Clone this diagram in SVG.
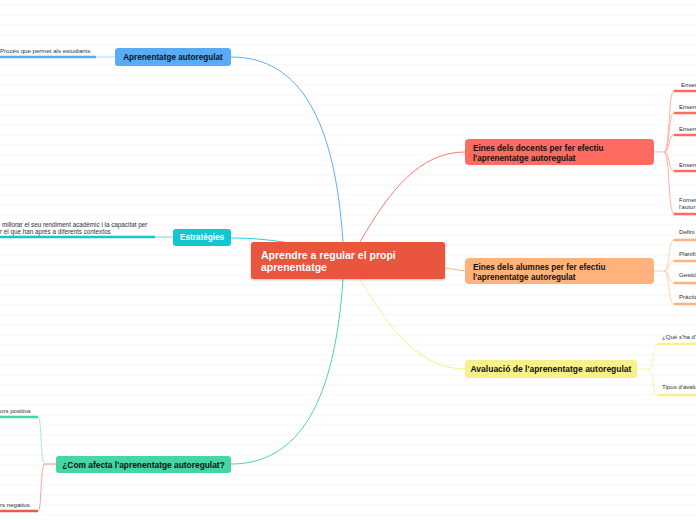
<svg xmlns="http://www.w3.org/2000/svg" width="696" height="520" viewBox="0 0 696 520">
<defs>
<pattern id="rules" x="0" y="0" width="696" height="10" patternUnits="userSpaceOnUse">
<rect x="0" y="4.5" width="696" height="1" fill="#f5f5f5"/>
</pattern>
<filter id="sh" x="-10%" y="-20%" width="120%" height="160%">
<feDropShadow dx="0" dy="1" stdDeviation="1" flood-color="#000" flood-opacity="0.25"/>
</filter>
</defs>
<style>
.lbl{font-family:"Liberation Sans",Arial,sans-serif;font-weight:bold;font-size:8.2px;fill:#111}
.sm{font-family:"Liberation Sans",Arial,sans-serif;font-size:6.1px;fill:#333}
.thin{fill:none;stroke-width:1}
.thick{fill:none;stroke-width:2.5}
</style>
<rect width="696" height="520" fill="#fff"/>
<rect width="696" height="520" fill="url(#rules)"/>

<g id="connectors">
<path class="thin" stroke="#62b0f5" d="M343,242 C335,120 300,57 231,57"/>
<path class="thin" stroke="#2ccfd9" d="M231,238 C255,238 270,240 290,243"/>
<path class="thin" stroke="#4cd8a6" d="M343,279 C335,400 300,464 231,464"/>
<path class="thin" stroke="#ff7a70" d="M360,242 C390,190 420,152 465,152"/>
<path class="thin" stroke="#ffb37c" d="M445,268 L465,271"/>
<path class="thin" stroke="#f8f08a" d="M360,279 C390,330 420,369 465,369"/>

<path class="thin" stroke="#a8d4fa" d="M96,57 L115,57"/>
<path class="thick" stroke="#5aabf5" d="M0,57 L96,57"/>
<path class="thin" stroke="#6fd9e1" d="M155,237 L173,237"/>
<path class="thick" stroke="#14c6d2" d="M0,237 L155,237"/>

<path class="thin" stroke="#c9a07e" d="M56,464 L45,464"/>
<path class="thin" stroke="#a8ecd3" d="M45,464 C40,464 42,417 38,417"/>
<path class="thin" stroke="#f5a99f" d="M45,464 C40,464 42,511 38,511"/>
<path class="thick" stroke="#45d6a3" d="M0,417 L38,417"/>
<path class="thick" stroke="#ee5a4a" d="M0,511 L38,511"/>

<g stroke="#ffb0aa" class="thin">
<path d="M654,152 L664,152"/>
<path d="M664,152 C670,152 668,91 674,91"/>
<path d="M664,152 C670,152 668,113 674,113"/>
<path d="M664,152 C670,152 668,135 674,135"/>
<path d="M664,152 C670,152 668,171 674,171"/>
<path d="M664,152 C670,152 668,214 674,214"/>
</g>
<g stroke="#ff6b61" class="thick">
<path d="M674,91 L696,91"/>
<path d="M674,113 L696,113"/>
<path d="M674,135 L696,135"/>
<path d="M674,171 L696,171"/>
<path d="M674,214 L696,214"/>
</g>

<g stroke="#ffd2b0" class="thin">
<path d="M654,271 L664,271"/>
<path d="M664,271 C670,271 668,240 674,240"/>
<path d="M664,271 C670,271 668,261 674,261"/>
<path d="M664,271 C670,271 668,283 674,283"/>
<path d="M664,271 C670,271 668,304 674,304"/>
</g>
<g stroke="#ffb37c" class="thick">
<path d="M674,240 L696,240"/>
<path d="M674,261 L696,261"/>
<path d="M674,283 L696,283"/>
<path d="M674,304 L696,304"/>
</g>

<g stroke="#f9f3a8" class="thin">
<path d="M637,369 L648,369"/>
<path d="M648,369 C654,369 652,344 658,344"/>
<path d="M648,369 C654,369 652,395 658,395"/>
</g>
<g stroke="#f8f08a" class="thick">
<path d="M658,344 L696,344"/>
<path d="M658,395 L696,395"/>
</g>
</g>

<g id="center">
<rect x="251" y="242" width="194" height="37" rx="2.5" fill="#e9543c" filter="url(#sh)"/>
<text x="261" y="259" font-family="Liberation Sans,Arial,sans-serif" font-weight="bold" font-size="10.5" fill="#fff">Aprendre a regular el propi</text>
<text x="261" y="271" font-family="Liberation Sans,Arial,sans-serif" font-weight="bold" font-size="10.5" fill="#fff">aprenentatge</text>
</g>

<g id="n-aprenentatge">
<rect x="115" y="48" width="116" height="18" rx="3" fill="#5aabf5"/>
<text class="lbl" x="173" y="60" text-anchor="middle">Aprenentatge autoregulat</text>
</g>
<g id="c-proces">
<text class="sm" x="0" y="53">Procés que permet als estudiants</text>
</g>

<g id="n-estrategies">
<rect x="173" y="229" width="58" height="17" rx="3" fill="#14c6d2"/>
<text class="lbl" x="202" y="240" text-anchor="middle" style="fill:#fff">Estratègies</text>
</g>
<g id="c-estrategies">
<text class="sm" x="2" y="227" style="font-size:6.3px">millorar el seu rendiment acadèmic i la capacitat per</text>
<text class="sm" x="0" y="234" style="font-size:6.3px">r el que han après a diferents contextos</text>
</g>

<g id="n-com">
<rect x="56" y="456" width="175" height="17" rx="3" fill="#45d6a3"/>
<text class="lbl" x="143.5" y="467.5" text-anchor="middle" style="font-size:8.4px">¿Com afecta l'aprenentatge autoregulat?</text>
</g>
<g id="c-positius"><text class="sm" x="0" y="413">ors positius</text></g>
<g id="c-negatius"><text class="sm" x="0" y="507">rs negatius</text></g>

<g id="n-docents">
<rect x="465" y="139" width="189" height="26" rx="4" fill="#ff6b61"/>
<text class="lbl" x="473" y="151">Eines dels docents per fer efectiu</text>
<text class="lbl" x="473" y="161">l'aprenentatge autoregulat</text>
</g>
<g id="c-d1"><text class="sm" x="681" y="87">Ensen</text></g>
<g id="c-d2"><text class="sm" x="679" y="109">Ensen</text></g>
<g id="c-d3"><text class="sm" x="679" y="131">Ensen</text></g>
<g id="c-d4"><text class="sm" x="679" y="167">Ensen</text></g>
<g id="c-d5"><text class="sm" x="679" y="202">Fomen</text><text class="sm" x="679" y="209">l'autor</text></g>

<g id="n-alumnes">
<rect x="465" y="258" width="189" height="26" rx="4" fill="#ffb37c"/>
<text class="lbl" x="473" y="270">Eines dels alumnes per fer efectiu</text>
<text class="lbl" x="473" y="279.5">l'aprenentatge autoregulat</text>
</g>
<g id="c-a1"><text class="sm" x="679" y="234">Defini</text></g>
<g id="c-a2"><text class="sm" x="679" y="256">Planifi</text></g>
<g id="c-a3"><text class="sm" x="679" y="277">Gestió</text></g>
<g id="c-a4"><text class="sm" x="679" y="299">Pràctic</text></g>

<g id="n-avaluacio">
<rect x="465" y="360" width="172" height="18" rx="3" fill="#f8f08a"/>
<text class="lbl" x="551" y="372" text-anchor="middle" style="font-size:8.5px">Avaluació de l'aprenentatge autoregulat</text>
</g>
<g id="c-v1"><text class="sm" x="662" y="339">¿Què s'ha d'</text></g>
<g id="c-v2"><text class="sm" x="662" y="389">Tipus d'avalu</text></g>
</svg>
